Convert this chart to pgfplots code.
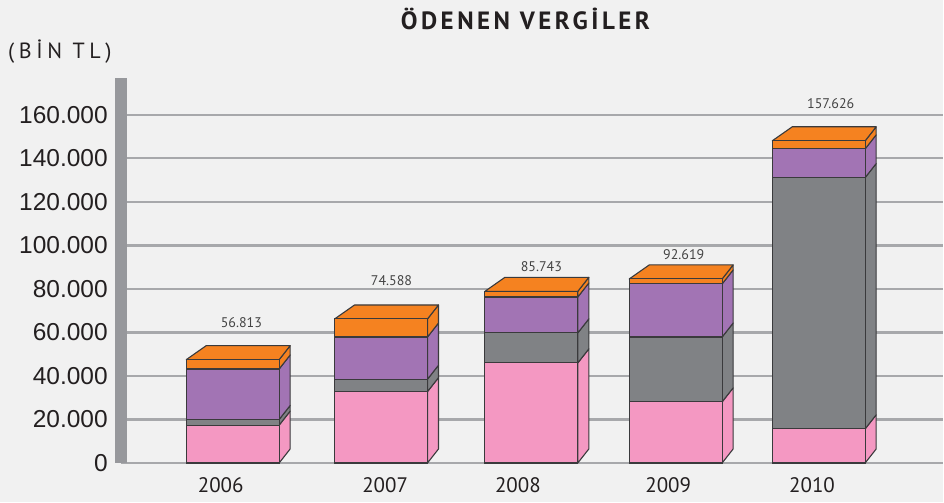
\documentclass[border=0pt]{standalone}
\usepackage{pgfplots}
\pgfplotsset{compat=1.18}
\usepackage{pgfplotstable}
\usepackage{fontspec}
\setmainfont{Liberation Sans}
\newfontfamily\din{PT Sans}
\newfontfamily\dintitle[LetterSpace=14]{PT Sans}
\newfontfamily\dinunit[LetterSpace=21]{PT Sans}

\definecolor{bg}{HTML}{F1F1F1}
\definecolor{cpink}{HTML}{F498C2}
\definecolor{cgray}{HTML}{808285}
\definecolor{cpurple}{HTML}{A274B4}
\definecolor{corange}{HTML}{F58220}
\definecolor{edge}{HTML}{3A3A3C}
\definecolor{gridc}{HTML}{A7A8AB}
\definecolor{axisc}{HTML}{97989C}
\definecolor{txt}{HTML}{231F20}
\definecolor{lbl}{HTML}{444444}

% front face values in thousand TL (segment heights), bar centre position
\pgfplotstableread{
xc    pink  gray   purple orange
233   17.4   2.6   23.2   4.3
381.5 32.8   5.7   19.4   8.3
532   46.0  13.8   16.5   2.6
676.5 28.1  29.8   24.4   2.3
819.7 15.7 115.5   13.2   3.7
}\vergi

% printed totals
\pgfplotstableread{
x     y     label
241.7 64.5  56.813
392   83.9  74.588
542   90.1  85.743
684.5 95.9  92.619
831.7 165.1 157.626
}\etiket

\def\hw{46.5}
\def\dxl{20}
\def\dxr{11}
\def\dy{6.43}

\begin{document}
\begin{tikzpicture}
\fill[bg] (-121pt,-39.5pt) rectangle (823pt,463.5pt);
\begin{axis}[
  at={(0,0)}, anchor=south west,
  scale only axis, width=823pt, height=385.5pt,
  xmin=121, xmax=944, ymin=0, ymax=177,
  enlargelimits=false, clip=false,
  axis lines*=left,
  x axis line style={draw=none},
  y axis line style={line width=12pt, draw=axisc},
  major tick length=0pt,
  ytick={0,20,...,160},
  yticklabels={0,20.000,40.000,60.000,80.000,100.000,120.000,140.000,160.000},
  yticklabel style={anchor=east, inner sep=0pt, xshift=-13pt, text=txt,
    font=\fontsize{24.5}{28}\selectfont},
  xtick={221,385.6,518.5,669,813},
  xticklabels={2006,2007,2008,2009,2010},
  xticklabel style={anchor=base, inner sep=0pt, yshift=-29.2pt, text=txt,
    font=\din\fontsize{21}{24}\selectfont},
  ymajorgrids,
  major grid style={line width=2.2pt, draw=gridc},
  face/.style={draw=edge, line width=1.1pt, line join=round},
]
% side and top faces
\pgfplotsinvokeforeach{0,...,4}{
  \pgfplotstablegetelem{#1}{xc}\of\vergi \let\vxc\pgfplotsretval
  \pgfplotstablegetelem{#1}{pink}\of\vergi \let\vpa\pgfplotsretval
  \pgfplotstablegetelem{#1}{gray}\of\vergi \let\vpb\pgfplotsretval
  \pgfplotstablegetelem{#1}{purple}\of\vergi \let\vpc\pgfplotsretval
  \pgfplotstablegetelem{#1}{orange}\of\vergi \let\vpd\pgfplotsretval
  \pgfmathsetmacro\vR{\vxc+\hw}
  \pgfmathsetmacro\vRb{\vR+\dxr}
  \pgfmathsetmacro\vLf{\vxc-\hw}
  \pgfmathsetmacro\vLb{\vLf+\dxl}
  \pgfmathsetmacro\vca{\vpa}
  \pgfmathsetmacro\vcb{\vca+\vpb}
  \pgfmathsetmacro\vcc{\vcb+\vpc}
  \pgfmathsetmacro\vcd{\vcc+\vpd}
  \pgfmathsetmacro\vcad{\vca+\dy}
  \pgfmathsetmacro\vcbd{\vcb+\dy}
  \pgfmathsetmacro\vccd{\vcc+\dy}
  \pgfmathsetmacro\vcdd{\vcd+\dy}
  \addplot[face, fill=cpink] coordinates {(\vR,0) (\vRb,\dy) (\vRb,\vcad) (\vR,\vca)} -- cycle;
  \addplot[face, fill=cgray] coordinates {(\vR,\vca) (\vRb,\vcad) (\vRb,\vcbd) (\vR,\vcb)} -- cycle;
  \addplot[face, fill=cpurple] coordinates {(\vR,\vcb) (\vRb,\vcbd) (\vRb,\vccd) (\vR,\vcc)} -- cycle;
  \addplot[face, fill=corange] coordinates {(\vR,\vcc) (\vRb,\vccd) (\vRb,\vcdd) (\vR,\vcd)} -- cycle;
  \addplot[face, fill=corange] coordinates {(\vLf,\vcd) (\vLb,\vcdd) (\vRb,\vcdd) (\vR,\vcd)} -- cycle;
}
% front faces (cumulative, drawn from the top segment down)
\addplot[ybar, bar width=93, bar shift=0pt, face, fill=corange]
  table[x=xc, y expr=\thisrow{pink}+\thisrow{gray}+\thisrow{purple}+\thisrow{orange}]{\vergi};
\addplot[ybar, bar width=93, bar shift=0pt, face, fill=cpurple]
  table[x=xc, y expr=\thisrow{pink}+\thisrow{gray}+\thisrow{purple}]{\vergi};
\addplot[ybar, bar width=93, bar shift=0pt, face, fill=cgray]
  table[x=xc, y expr=\thisrow{pink}+\thisrow{gray}]{\vergi};
\addplot[ybar, bar width=93, bar shift=0pt, face, fill=cpink]
  table[x=xc, y=pink]{\vergi};
% totals
\addplot[draw=none, mark=none, nodes near coords, point meta=explicit symbolic,
  every node near coord/.append style={anchor=center, inner sep=0pt, text=lbl,
    font=\din\fontsize{14}{16}\selectfont}]
  table[x=x, y=y, meta=label]{\etiket};
\end{axis}
\node[anchor=center, inner sep=0pt, text=txt] at (405pt,444.5pt)
  {\dintitle\bfseries\fontsize{25}{29}\selectfont ÖDENEN VERGİLER};
\node[anchor=west, inner sep=0pt, text=txt] at (-113pt,412pt)
  {\dinunit\fontsize{22}{26}\selectfont (BİN TL)};
\end{tikzpicture}
\end{document}
